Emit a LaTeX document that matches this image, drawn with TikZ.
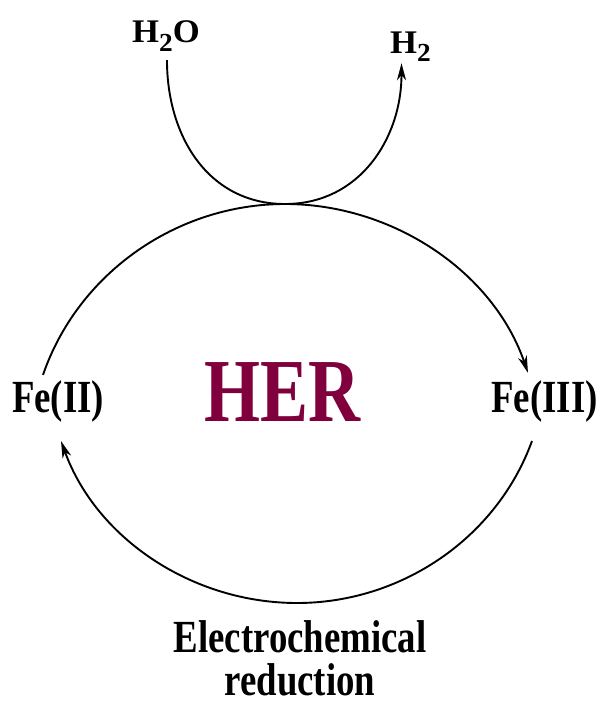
\documentclass[tikz,border=0pt]{standalone}
\usepackage{fontspec}
\setmainfont{Liberation Serif}
\newfontfamily\condbf{Liberation Serif Bold}[FakeStretch=0.8]
\newfontfamily\plainbf{Liberation Serif Bold}[FakeStretch=1.05]
\usetikzlibrary{arrows.meta}
\definecolor{hermaroon}{RGB}{128,0,62}
\newcommand{\chemsub}[1]{\raisebox{-9pt}{\fontsize{26}{26}\selectfont #1}}

\begin{document}
\begin{tikzpicture}[
  x=1pt, y=1pt,
  lbl/.style={inner sep=0pt, anchor=base},
  species/.style={lbl, anchor=base west, font=\plainbf\fontsize{33}{36}\selectfont},
  ion/.style={lbl, font=\condbf\fontsize{46}{50}\selectfont},
  arr/.style={-{Stealth[length=17pt, width=9pt, inset=5pt]}, line width=1.9pt},
  cyclearc/.style={arr, looseness=0.93}]
\useasboundingbox (0,0) rectangle (604,-709);
\node[species] (h2o) at (132,-43) {H\chemsub{2}O};
\node[species] (h2) at (390,-53) {H\chemsub{2}};
\node[ion] (fe2) at (58,-412) {Fe(II)};
\node[ion] (fe3) at (544.5,-412) {Fe(III)};
\node[lbl, font=\condbf\fontsize{90}{90}\selectfont, text=hermaroon] (her) at (282.5,-421) {HER};
\node[lbl, align=center, font=\condbf\fontsize{46}{43}\selectfont] (red) at (300,-695) {Electrochemical\\ reduction};
\coordinate (touch) at (285,-204);
\coordinate (bot) at (297,-603);
% water reduction on top of the cycle
\draw[arr] ([xshift=1pt, yshift=-8pt]h2o.south) to[out=-90, in=180, looseness=1.05] (touch)
  to[out=0, in=-90, looseness=1.05] ([xshift=-9pt, yshift=-1pt]h2.south);
% Fe(II) -> Fe(III)
\draw[cyclearc] ([xshift=-15pt, yshift=5pt]fe2.north) to[out=71, in=180] (touch)
  to[out=0, in=109] ([xshift=-16.5pt, yshift=7pt]fe3.north);
% back to Fe(II)
\draw[cyclearc] ([xshift=-12.5pt, yshift=-19pt]fe3.south) to[out=-110, in=0] (bot)
  to[out=180, in=-70] ([xshift=3pt, yshift=-19pt]fe2.south);
\end{tikzpicture}
\end{document}
